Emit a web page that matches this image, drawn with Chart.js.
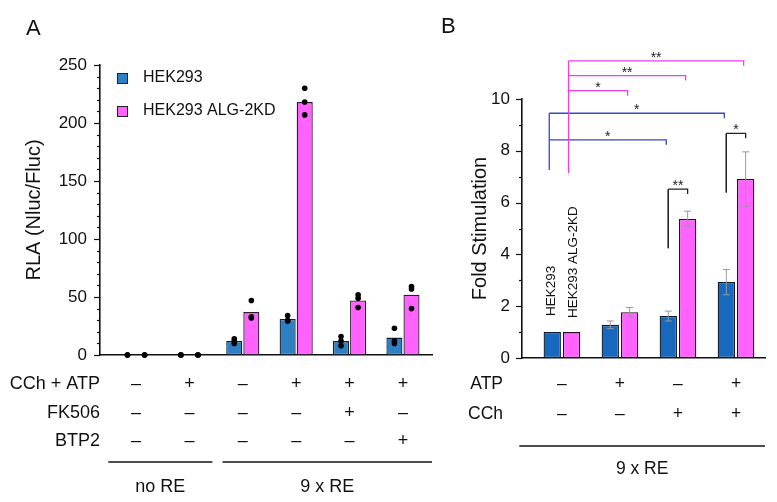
<!DOCTYPE html>
<html>
<head>
<meta charset="utf-8">
<script src="https://cdn.jsdelivr.net/npm/chart.js@4.4.1/dist/chart.umd.min.js"></script>
<style>
  body { margin: 0; background: #fff; width: 777px; height: 502px; position: relative; overflow: hidden; font-family: "Liberation Sans", Arial, sans-serif; }
  #wrapA { position: absolute; left: 0; top: 0; width: 440px; height: 502px; }
  #wrapB { position: absolute; left: 440px; top: 0; width: 337px; height: 502px; }
  .panel { position: absolute; font-size: 22px; line-height: 22px; color: #111; }
</style>
</head>
<body>
<div id="wrapA"><canvas id="chartA" width="440" height="502"></canvas></div>
<div id="wrapB"><canvas id="chartB" width="337" height="502"></canvas></div>
<div class="panel" style="left:26px;top:17px">A</div>
<div class="panel" style="left:441px;top:15px">B</div>
<script>
// ---- panel A data ----
var groupsA = [0, 1, 2, 3, 4, 5];
var hekA = [0, 0, 12, 31, 12, 15];
var kdA = [0, 0, 37, 218, 47, 52];
var hekDotsA = [[0, 0, 0], [0, 0, 0], [14, 12, 10], [34, 30, 29], [16, 12, 8], [23, 12, 10]];
var kdDotsA = [[0, 0, 0], [0, 0, 0], [47, 33, 32], [230, 218, 207], [52, 49, 41], [59, 57, 40]];
var cchAtpA = ['–', '+', '–', '+', '+', '+'];
var fk506A = ['–', '–', '–', '–', '+', '–'];
var btp2A = ['–', '–', '–', '–', '–', '+'];
var rowNamesA = ['CCh + ATP', 'FK506', 'BTP2'];
var sectionsA = [{ label: 'no RE', from: 0, to: 1 }, { label: '9 x RE', from: 2, to: 5 }];

// ---- panel B data ----
var groupsB = [0, 1, 2, 3];
var hekB = [1.0, 1.28, 1.62, 2.93];
var kdB = [1.0, 1.77, 5.37, 6.91];
var hekErrB = [0, 0.15, 0.19, 0.49];
var kdErrB = [0, 0.18, 0.30, 1.05];
var atpB = ['–', '+', '–', '+'];
var cchB = ['–', '–', '+', '+'];
var rowNamesB = ['ATP', 'CCh'];
// significance brackets: [group, dataset] from -> to, level, label
var bracketsB = [
  { kind: 'kd', from: [0, 1], to: [3, 1], y: 11.47, base: 7.14, label: '**' },
  { kind: 'kd', from: [0, 1], to: [2, 1], y: 10.9, base: 7.14, label: '**' },
  { kind: 'kd', from: [0, 1], to: [1, 1], y: 10.32, base: 7.14, label: '*' },
  { kind: 'hek', from: [0, 0], to: [3, 0], y: 9.45, base: 7.26, label: '*' },
  { kind: 'hek', from: [0, 0], to: [2, 0], y: 8.42, base: 7.26, label: '*' },
  { kind: 'pair', from: [2, 0], to: [2, 1], y: 6.52, base: 4.24, label: '**' },
  { kind: 'pair', from: [3, 0], to: [3, 1], y: 8.67, base: 6.39, label: '*' }
];

var FONT = '"Liberation Sans", Arial, sans-serif';
var bracketColors = { kd: '#ee3cee', hek: '#3448c8', pair: '#222' };

function drawTicks(chart, step, major) {
  var ctx = chart.ctx, y = chart.scales.y, left = chart.chartArea.left;
  ctx.save();
  ctx.strokeStyle = '#111';
  ctx.lineWidth = 1.2;
  for (var v = y.min; v <= y.max + 1e-6; v += step) {
    var py = Math.round(y.getPixelForValue(v)) + 0.5;
    var len = (Math.abs(v % major) < 1e-6) ? 6 : 3;
    ctx.beginPath();
    ctx.moveTo(left - len, py);
    ctx.lineTo(left, py);
    ctx.stroke();
  }
  ctx.restore();
}

function drawRows(chart, rows, names, rowY, labelRight, size) {
  var ctx = chart.ctx, x = chart.scales.x;
  ctx.save();
  ctx.fillStyle = '#111';
  ctx.font = size + 'px ' + FONT;
  ctx.textBaseline = 'middle';
  rows.forEach(function (row, r) {
    ctx.textAlign = 'right';
    ctx.fillText(names[r], labelRight, rowY[r]);
    ctx.textAlign = 'center';
    row.forEach(function (s, i) {
      ctx.fillText(s, x.getPixelForValue(i), rowY[r]);
    });
  });
  ctx.restore();
}

var pluginA = {
  id: 'extrasA',
  afterDraw: function (chart) {
    var ctx = chart.ctx, y = chart.scales.y, x = chart.scales.x;
    drawTicks(chart, 10, 50);

    // individual points
    ctx.save();
    ctx.fillStyle = '#000';
    [hekDotsA, kdDotsA].forEach(function (dots, d) {
      var meta = chart.getDatasetMeta(d);
      dots.forEach(function (pts, i) {
        pts.forEach(function (v) {
          ctx.beginPath();
          ctx.arc(meta.data[i].x, y.getPixelForValue(v), 2.8, 0, Math.PI * 2);
          ctx.fill();
        });
      });
    });
    ctx.restore();

    // legend
    ctx.save();
    ctx.font = '16px ' + FONT;
    ctx.textBaseline = 'middle';
    ctx.textAlign = 'left';
    chart.data.datasets.forEach(function (ds, d) {
      var ly = 78 + d * 33;
      ctx.fillStyle = ds.backgroundColor;
      ctx.fillRect(117, ly - 5, 10, 10);
      ctx.strokeStyle = '#222';
      ctx.lineWidth = 1;
      ctx.strokeRect(117.5, ly - 4.5, 10, 10);
      ctx.fillStyle = '#111';
      ctx.fillText(ds.label, 143, ly);
    });
    ctx.restore();

    drawRows(chart, [cchAtpA, fk506A, btp2A], rowNamesA, [384, 413, 441], 100, 18);

    // section lines
    ctx.save();
    ctx.strokeStyle = '#111';
    ctx.lineWidth = 1.5;
    ctx.fillStyle = '#111';
    ctx.font = '18px ' + FONT;
    ctx.textAlign = 'center';
    ctx.textBaseline = 'middle';
    var step = x.getPixelForValue(1) - x.getPixelForValue(0);
    sectionsA.forEach(function (s, k) {
      var x0 = x.getPixelForValue(s.from) - (k === 0 ? 0.52 : 0.38) * step;
      var x1 = k === sectionsA.length - 1 ? chart.chartArea.right : x.getPixelForValue(s.to) + 0.43 * step;
      ctx.beginPath();
      ctx.moveTo(x0, 462);
      ctx.lineTo(x1, 462);
      ctx.stroke();
      ctx.fillText(s.label, (x0 + x1) / 2, 487);
    });
    ctx.restore();
  }
};

var pluginB = {
  id: 'extrasB',
  afterDraw: function (chart) {
    var ctx = chart.ctx, y = chart.scales.y;
    drawTicks(chart, 1, 2);
    var bx = function (g, d) { return chart.getDatasetMeta(d).data[g].x; };

    // error bars
    ctx.save();
    ctx.strokeStyle = '#999';
    ctx.lineWidth = 1;
    [[hekB, hekErrB], [kdB, kdErrB]].forEach(function (pair, d) {
      pair[0].forEach(function (v, i) {
        var e = pair[1][i];
        if (!e) return;
        var cx = bx(i, d), top = y.getPixelForValue(v + e), bot = y.getPixelForValue(v - e);
        ctx.beginPath();
        ctx.moveTo(cx, top); ctx.lineTo(cx, bot);
        ctx.moveTo(cx - 3.5, top); ctx.lineTo(cx + 3.5, top);
        ctx.moveTo(cx - 3.5, bot); ctx.lineTo(cx + 3.5, bot);
        ctx.stroke();
      });
    });
    ctx.restore();

    // rotated cell line names above the first group
    ctx.save();
    ctx.fillStyle = '#111';
    ctx.font = '13.5px ' + FONT;
    ctx.textBaseline = 'middle';
    ctx.textAlign = 'left';
    chart.data.datasets.forEach(function (ds, d) {
      ctx.save();
      ctx.translate(bx(0, d) + (d ? 2 : -1), y.getPixelForValue(ds.data[0].y) - 14 - (d ? 0 : 2));
      ctx.rotate(-Math.PI / 2);
      ctx.fillText(ds.label, 0, 0);
      ctx.restore();
    });
    ctx.restore();

    // significance brackets
    ctx.save();
    ctx.lineWidth = 1.3;
    ctx.font = '14px ' + FONT;
    ctx.textAlign = 'center';
    ctx.textBaseline = 'alphabetic';
    var stems = {};
    bracketsB.forEach(function (b) {
      var x0 = bx(b.from[0], b.from[1]) - (b.kind === 'pair' ? 0 : 3);
      var x1 = bx(b.to[0], b.to[1]) - (b.kind === 'pair' ? 0 : 2);
      var py = y.getPixelForValue(b.y);
      var tick = y.getPixelForValue(b.y - 0.19) - py;
      ctx.strokeStyle = bracketColors[b.kind];
      ctx.fillStyle = '#222';
      ctx.beginPath();
      ctx.moveTo(x1, py + tick);
      ctx.lineTo(x1, py);
      ctx.lineTo(x0, py);
      ctx.stroke();
      var key = b.kind + x0;
      if (b.kind === 'pair' || !stems[key] || stems[key].top > py) {
        stems[key] = { x: x0, top: py, bot: y.getPixelForValue(b.base), color: bracketColors[b.kind] };
        if (b.kind === 'pair') stems[key + b.y] = stems[key];
      }
      ctx.fillText(b.label, (x0 + x1) / 2, py + 1);
    });
    Object.keys(stems).forEach(function (k) {
      var s = stems[k];
      ctx.strokeStyle = s.color;
      ctx.beginPath();
      ctx.moveTo(s.x, s.top);
      ctx.lineTo(s.x, s.bot);
      ctx.stroke();
    });
    ctx.restore();

    drawRows(chart, [atpB, cchB], rowNamesB, [384, 414], 63, 17.5);

    ctx.save();
    ctx.strokeStyle = '#111';
    ctx.lineWidth = 1.5;
    var x = chart.scales.x;
    var l0 = x.getPixelForValue(-0.735), l1 = chart.chartArea.right;
    ctx.beginPath();
    ctx.moveTo(l0, 446);
    ctx.lineTo(l1, 446);
    ctx.stroke();
    ctx.fillStyle = '#111';
    ctx.font = '17.5px ' + FONT;
    ctx.textAlign = 'center';
    ctx.textBaseline = 'middle';
    ctx.fillText('9 x RE', (l0 + l1) / 2, 469);
    ctx.restore();
  }
};

function makeOptions(cfg) {
  return {
    responsive: false,
    animation: false,
    layout: { padding: cfg.padding },
    plugins: { legend: { display: false }, tooltip: { enabled: false } },
    datasets: { bar: { categoryPercentage: cfg.cat, barPercentage: cfg.bar, borderWidth: 1.3, borderSkipped: false } },
    scales: {
      x: {
        type: 'linear',
        offset: false,
        min: cfg.xmin,
        max: cfg.xmax,
        grid: { display: false, offset: false },
        border: { display: true, color: '#111', width: 1.6 },
        ticks: { display: false },
        afterBuildTicks: function (s) { s.ticks = cfg.groups.map(function (g) { return { value: g }; }); },
        afterFit: function (s) { s.height = 0; }
      },
      y: {
        min: 0,
        max: cfg.ymax,
        grid: { display: false, drawTicks: false },
        border: { display: true, color: '#111', width: 1.6 },
        ticks: {
          stepSize: cfg.major,
          padding: cfg.tickPad,
          color: '#111',
          font: { family: FONT, size: 17 }
        },
        title: {
          display: true,
          text: cfg.title,
          color: '#111',
          font: { family: FONT, size: 20 },
          padding: { top: cfg.titlePad, bottom: 0 }
        },
        afterFit: function (s) { s.width = cfg.axisWidth; }
      }
    }
  };
}

function bars(groups, values) {
  return groups.map(function (g, i) { return { x: g, y: values[i] }; });
}

new Chart(document.getElementById('chartA').getContext('2d'), {
  type: 'bar',
  data: {
    datasets: [
      { label: 'HEK293', data: bars(groupsA, hekA), backgroundColor: '#2e7fc3', borderColor: '#15202e' },
      { label: 'HEK293 ALG-2KD', data: bars(groupsA, kdA), backgroundColor: '#ff62ff', borderColor: '#2a1a2a' }
    ]
  },
  options: makeOptions({
    padding: { left: 0, top: 65, right: 8, bottom: 147 },
    cat: 0.64, bar: 0.94, xmin: -0.675, xmax: 5.544, groups: groupsA,
    ymax: 250, major: 50, tickPad: 13, axisWidth: 100,
    title: 'RLA (Nluc/Fluc)', titlePad: 22
  }),
  plugins: [pluginA]
});

new Chart(document.getElementById('chartB').getContext('2d'), {
  type: 'bar',
  data: {
    datasets: [
      { label: 'HEK293', data: bars(groupsB, hekB), backgroundColor: '#1768bf', borderColor: '#0d1a28' },
      { label: 'HEK293 ALG-2KD', data: bars(groupsB, kdB), backgroundColor: '#ff62ff', borderColor: '#221022' }
    ]
  },
  options: makeOptions({
    padding: { left: 0, top: 99, right: 12, bottom: 144 },
    cat: 0.666, bar: 0.897, xmin: -0.688, xmax: 3.5, groups: groupsB,
    ymax: 10, major: 2, tickPad: 12, axisWidth: 82,
    title: 'Fold Stimulation', titlePad: 28
  }),
  plugins: [pluginB]
});
</script>
</body>
</html>
